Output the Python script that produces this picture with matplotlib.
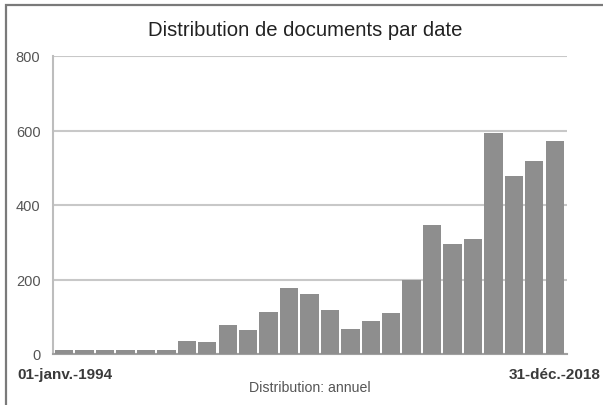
import matplotlib.pyplot as plt
from matplotlib.patches import Rectangle

plt.rcParams['font.family'] = ['Liberation Sans', 'DejaVu Sans']

# Data: documents per year, 1994 -> 2018
years = list(range(1994, 2019))
counts = [12, 12, 12, 12, 12, 12, 35, 31, 78, 65, 112, 178, 161, 119,
          67, 88, 110, 199, 347, 294, 309, 592, 477, 518, 571]
yticks = [0, 200, 400, 600, 800]

W, H = 603, 406
fig = plt.figure(figsize=(W / 100, H / 100), dpi=100)
fig.patch.set_facecolor('white')

# outer frame (cut off at right and bottom like the screenshot)
fig.patches.append(Rectangle((6 / W, -0.05), 1.0, 1.05 - 6 / H, transform=fig.transFigure,
                             fill=False, edgecolor='#7a7a7a', linewidth=1.6))

ax = fig.add_axes([53 / W, 51 / H, (567 - 53) / W, (355 - 57) / H])
x = list(range(len(years)))
ax.bar(x, counts, width=0.9, color='#8e8e8e', zorder=3)

ax.set_xlim(-0.55, 24.6)
ax.set_ylim(0, 800)
ax.set_yticks(yticks)
ax.set_xticks([])
ax.yaxis.grid(True, color='#c8c8c8', linewidth=1.5, zorder=0)
ax.tick_params(axis='y', length=0, pad=9, labelsize=10.5, labelcolor='#555555')
for s in ['top', 'right']:
    ax.spines[s].set_visible(False)
ax.spines['left'].set_color('#bdbdbd')
ax.spines['left'].set_linewidth(1.5)
ax.spines['bottom'].set_color('#a0a0a0')
ax.spines['bottom'].set_linewidth(1.5)

fig.text(305 / W, 1 - 30 / H, 'Distribution de documents par date', ha='center', va='center',
         fontsize=14.6, color='#222222')
fig.text(17 / W, 1 - 375 / H, '01-janv.-' + str(years[0]), ha='left', va='center',
         fontsize=11, fontweight='bold', color='#3a3a3a')
fig.text(601 / W, 1 - 375 / H, '31-déc.-' + str(years[-1]), ha='right', va='center',
         fontsize=11, fontweight='bold', color='#3a3a3a')
fig.text(310 / W, 1 - 388 / H, 'Distribution: annuel', ha='center', va='center',
         fontsize=10.2, color='#555555')

fig.savefig('out.png', dpi=100)
